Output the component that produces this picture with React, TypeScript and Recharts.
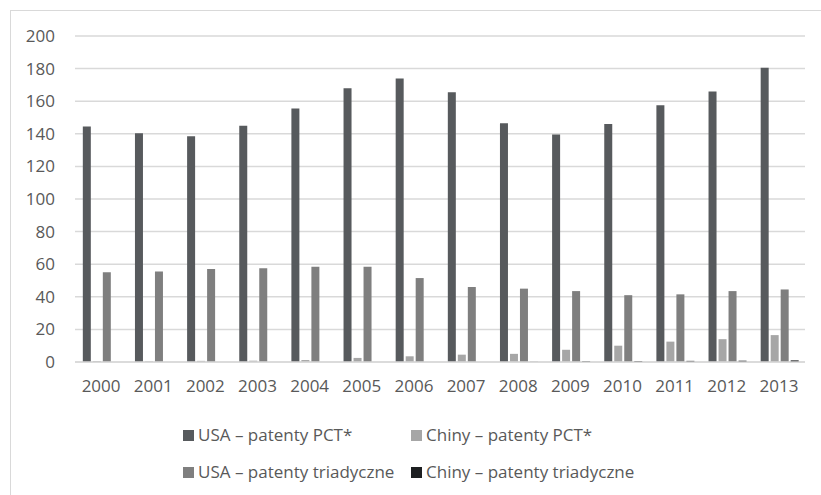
import { BarChart, Bar, XAxis, YAxis, CartesianGrid } from 'recharts';

const years = ['2000', '2001', '2002', '2003', '2004', '2005', '2006', '2007', '2008', '2009', '2010', '2011', '2012', '2013'];
const usaPct = [144.5, 140.3, 138.5, 145, 155.5, 168, 174, 165.5, 146.5, 139.5, 146, 157.5, 166, 180.5];
const chinaPct = [0.6, 0.4, 0.7, 0.8, 1.2, 2.5, 3.5, 4.5, 5, 7.5, 10, 12.5, 14, 16.5];
const usaTriad = [55, 55.5, 57, 57.5, 58.5, 58.5, 51.5, 46, 45, 43.5, 41, 41.5, 43.5, 44.5];
const chinaTriad = [0, 0, 0, 0, 0, 0, 0, 0, 0.1, 0.5, 0.6, 0.7, 0.8, 1.0];
const yTicks = [0, 20, 40, 60, 80, 100, 120, 140, 160, 180, 200];

const series = [
  { key: 'usaPct', name: 'USA – patenty PCT*', color: '#575a5d' },
  { key: 'chinaPct', name: 'Chiny – patenty PCT*', color: '#a6a6a6' },
  { key: 'usaTriad', name: 'USA – patenty triadyczne', color: '#7f7f7f' },
  { key: 'chinaTriad', name: 'Chiny – patenty triadyczne', color: '#1d1f21' },
];

const data = years.map((year, i) => ({
  year,
  usaPct: usaPct[i],
  chinaPct: chinaPct[i],
  usaTriad: usaTriad[i],
  chinaTriad: chinaTriad[i],
}));

const font = '"Open Sans", sans-serif';
const textColor = '#595959';

function LegendItem({ name, color, x, y }: { name: string; color: string; x: number; y: number }) {
  return (
    <div style={{ position: 'absolute', left: x, top: y, display: 'flex', alignItems: 'center', whiteSpace: 'nowrap' }}>
      <div style={{ width: 11, height: 11, backgroundColor: color, marginRight: 4 }} />
      <span style={{ fontFamily: font, fontSize: 17, color: textColor, lineHeight: '20px' }}>{name}</span>
    </div>
  );
}

export default function App() {
  return (
    <div style={{ position: 'absolute', left: 0, top: 0, width: 821, height: 495, background: '#fff', overflow: 'hidden' }}>
      <div
        style={{
          position: 'absolute',
          left: 10,
          top: 10,
          width: 830,
          height: 500,
          borderTop: '1.5px solid #d9d9d9',
          borderLeft: '1.5px solid #d9d9d9',
        }}
      />
      <div style={{ position: 'absolute', left: 0, top: 0 }}>
        <BarChart
          width={821}
          height={495}
          data={data}
          margin={{ top: 36, right: 16, left: 0, bottom: 103 }}
          barCategoryGap="15%"
          barGap={2}
        >
          <CartesianGrid vertical={false} stroke="#d9d9d9" strokeWidth={1.5} />
          <XAxis
            dataKey="year"
            height={30}
            tickLine={false}
            tickSize={0}
            tickMargin={18}
            axisLine={{ stroke: '#d9d9d9', strokeWidth: 1.5 }}
            tick={{ fill: textColor, fontSize: 17, fontFamily: font }}
            interval={0}
          />
          <YAxis
            width={75}
            domain={[0, 200]}
            ticks={yTicks}
            tickLine={false}
            tickSize={0}
            tickMargin={20}
            axisLine={false}
            tick={{ fill: textColor, fontSize: 17, fontFamily: font }}
          />
          {series.map((s) => (
            <Bar key={s.key} dataKey={s.key} name={s.name} fill={s.color} isAnimationActive={false} />
          ))}
        </BarChart>
      </div>
      <LegendItem name={series[0].name} color={series[0].color} x={183} y={425} />
      <LegendItem name={series[1].name} color={series[1].color} x={411} y={425} />
      <LegendItem name={series[2].name} color={series[2].color} x={183} y={462} />
      <LegendItem name={series[3].name} color={series[3].color} x={411} y={462} />
    </div>
  );
}
